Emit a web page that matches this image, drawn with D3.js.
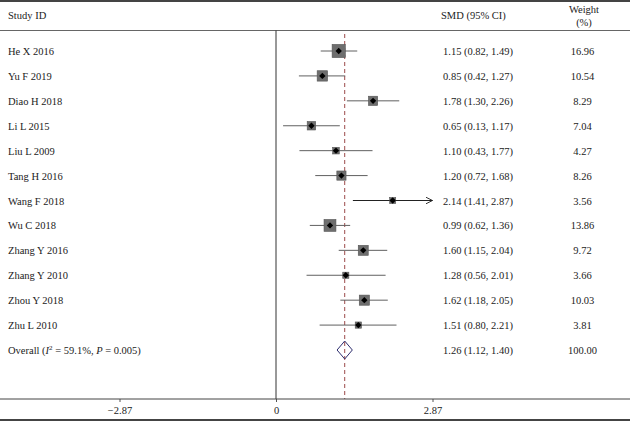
<!DOCTYPE html>
<html>
<head>
<meta charset="utf-8">
<script src="https://cdn.jsdelivr.net/npm/d3@7"></script>
<style>
  html, body { margin: 0; padding: 0; background: #fff; }
  svg { display: block; }
  text { font-family: "Liberation Serif", "DejaVu Serif", serif; fill: #222; }
</style>
</head>
<body>
<script>
const studies = ["He X 2016", "Yu F 2019", "Diao H 2018", "Li L 2015", "Liu L 2009", "Tang H 2016",
  "Wang F 2018", "Wu C 2018", "Zhang Y 2016", "Zhang Y 2010", "Zhou Y 2018", "Zhu L 2010"];
const smd   = [1.15, 0.85, 1.78, 0.65, 1.10, 1.20, 2.14, 0.99, 1.60, 1.28, 1.62, 1.51];
const lower = [0.82, 0.42, 1.30, 0.13, 0.43, 0.72, 1.41, 0.62, 1.15, 0.56, 1.18, 0.80];
const upper = [1.49, 1.27, 2.26, 1.17, 1.77, 1.68, 2.87, 1.36, 2.04, 2.01, 2.05, 2.21];
const weight = [16.96, 10.54, 8.29, 7.04, 4.27, 8.26, 3.56, 13.86, 9.72, 3.66, 10.03, 3.81];
const overall = {smd: 1.26, lower: 1.12, upper: 1.40, weight: 100.00, i2: "59.1%", p: "0.005"};
const tickValues = [-2.87, 0, 2.87];
const axisMax = 2.87;

const W = 630, H = 421;
const svg = d3.select("body").append("svg").attr("width", W).attr("height", H);

const x = d3.scaleLinear().domain([-2.87, 2.87]).range([119.5, 432.5]);
const rowLabels = studies.concat(["__overall"]);
const y = d3.scalePoint().domain(d3.range(rowLabels.length)).range([51, 350]);
const fs = "10.5px";
const fmt = d3.format(".2f");

// borders
svg.append("line").attr("x1", 0).attr("x2", W).attr("y1", 1).attr("y2", 1)
  .attr("stroke", "#444").attr("stroke-width", 2);
svg.append("line").attr("x1", 0).attr("x2", W).attr("y1", 30.5).attr("y2", 30.5)
  .attr("stroke", "#666").attr("stroke-width", 1);
svg.append("line").attr("x1", 0).attr("x2", W).attr("y1", 420).attr("y2", 420)
  .attr("stroke", "#444").attr("stroke-width", 2);

// header
svg.append("text").attr("x", 8).attr("y", 19).style("font-size", fs).text("Study ID");
svg.append("text").attr("x", 441).attr("y", 19).style("font-size", fs).text("SMD (95% CI)");
svg.append("text").attr("x", 584).attr("y", 13).attr("text-anchor", "middle").style("font-size", fs).text("Weight");
svg.append("text").attr("x", 584).attr("y", 26).attr("text-anchor", "middle").style("font-size", fs).text("(%)");

// zero line
svg.append("line").attr("x1", x(0)).attr("x2", x(0)).attr("y1", 30.5).attr("y2", 399)
  .attr("stroke", "#333").attr("stroke-width", 1);

// overall dashed line
svg.append("line").attr("x1", x(overall.smd)).attr("x2", x(overall.smd)).attr("y1", 34).attr("y2", 399)
  .attr("stroke", "#9b4a4a").attr("stroke-width", 1).attr("stroke-dasharray", "4,3");

// axis
const axis = d3.axisBottom(x).tickValues(tickValues).tickSize(3).tickFormat(d => d === 0 ? "0" : d < 0 ? "\u22122.87" : "2.87");
const ag = svg.append("g").attr("transform", "translate(0,399)").call(axis);
ag.select(".domain").remove();
ag.selectAll(".tick line").attr("stroke", "#555");
ag.selectAll(".tick text").style("font-size", fs).style("font-family", "'Liberation Serif', serif").attr("fill", "#222").attr("dy", "0.9em");
svg.append("line").attr("x1", 0).attr("x2", W).attr("y1", 399).attr("y2", 399)
  .attr("stroke", "#444").attr("stroke-width", 1);

// arrow marker
const defs = svg.append("defs");
defs.append("marker").attr("id", "arr").attr("viewBox", "0 0 10 10").attr("refX", 10).attr("refY", 5)
  .attr("markerWidth", 7).attr("markerHeight", 7).attr("markerUnits", "userSpaceOnUse").attr("orient", "auto")
  .append("path").attr("d", "M0,0 L10,5 L0,10").attr("fill", "none").attr("stroke", "#222").attr("stroke-width", 1.3);

// study rows
const rows = svg.append("g").selectAll("g").data(studies).join("g");
rows.append("text").attr("x", 8).attr("y", (d, i) => y(i) + 4).style("font-size", fs).text(d => d);
rows.append("line")
  .attr("x1", (d, i) => x(lower[i])).attr("x2", (d, i) => x(upper[i]))
  .attr("y1", (d, i) => y(i)).attr("y2", (d, i) => y(i))
  .attr("stroke", (d, i) => upper[i] >= axisMax ? "#222" : "#606060").attr("stroke-width", 1)
  .attr("marker-end", (d, i) => upper[i] >= axisMax ? "url(#arr)" : null);
rows.append("rect")
  .attr("x", (d, i) => x(smd[i]) - 1.6 * Math.sqrt(weight[i]))
  .attr("y", (d, i) => y(i) - 1.6 * Math.sqrt(weight[i]))
  .attr("width", (d, i) => 3.2 * Math.sqrt(weight[i]))
  .attr("height", (d, i) => 3.2 * Math.sqrt(weight[i]))
  .attr("fill", "#6e6e6e").attr("stroke", "#555").attr("stroke-width", 0.6);
rows.append("path")
  .attr("transform", (d, i) => `translate(${x(smd[i])},${y(i)})`)
  .attr("d", d3.symbol(d3.symbolDiamond2, 26))
  .attr("fill", "#000");
rows.append("text").attr("x", 443).attr("y", (d, i) => y(i) + 4).style("font-size", fs)
  .text((d, i) => `${fmt(smd[i])} (${fmt(lower[i])}, ${fmt(upper[i])})`);
rows.append("text").attr("x", 582.5).attr("y", (d, i) => y(i) + 4).attr("text-anchor", "middle").style("font-size", fs)
  .text((d, i) => fmt(weight[i]));

// overall row
const oy = y(studies.length);
const ot = svg.append("text").attr("x", 8).attr("y", oy + 4).style("font-size", fs);
ot.append("tspan").text("Overall (");
ot.append("tspan").attr("font-style", "italic").text("I");
ot.append("tspan").attr("dy", -4).style("font-size", "7px").text("2");
ot.append("tspan").attr("dy", 4).text(` = ${overall.i2}, `);
ot.append("tspan").attr("font-style", "italic").text("P");
ot.append("tspan").text(` = ${overall.p})`);
svg.append("path")
  .attr("d", `M${x(overall.lower)},${oy} L${x(overall.smd)},${oy - 9} L${x(overall.upper)},${oy} L${x(overall.smd)},${oy + 9} Z`)
  .attr("fill", "none").attr("stroke", "#2e2e6e").attr("stroke-width", 1);
svg.append("text").attr("x", 443).attr("y", oy + 4).style("font-size", fs)
  .text(`${fmt(overall.smd)} (${fmt(overall.lower)}, ${fmt(overall.upper)})`);
svg.append("text").attr("x", 582.5).attr("y", oy + 4).attr("text-anchor", "middle").style("font-size", fs)
  .text(fmt(overall.weight));
</script>
</body>
</html>
